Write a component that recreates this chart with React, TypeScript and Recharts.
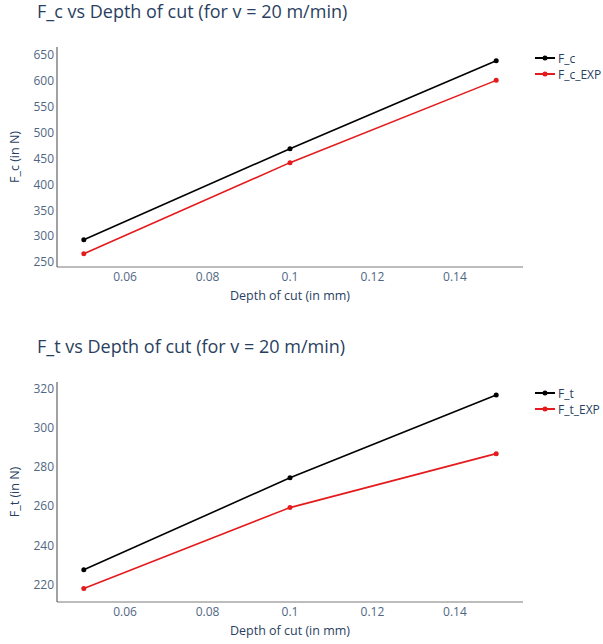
import React from "react";
import { LineChart, Line, XAxis, YAxis, Label } from "recharts";

const depths = [0.05, 0.1, 0.15];
const fcValues = [293, 469, 639];
const fcExpValues = [266, 442, 601];
const ftValues = [227.5, 274.4, 316.6];
const ftExpValues = [218, 259.2, 286.7];
const xTicks = [0.06, 0.08, 0.1, 0.12, 0.14];
const fcTicks = [250, 300, 350, 400, 450, 500, 550, 600, 650];
const ftTicks = [220, 240, 260, 280, 300, 320];

const FONT = '"Open Sans", Verdana, Arial, sans-serif';
const TITLE_COLOR = "#2a3f5f";
const TICK_COLOR = "#506784";
const RED = "#e41a1c";

function LegendBox(props: { names: string[] }) {
  return (
    <div
      style={{
        position: "absolute",
        left: 535,
        top: 50,
        fontFamily: FONT,
        fontSize: 12,
        color: TITLE_COLOR,
      }}
    >
      {props.names.map((n, i) => (
        <div key={n} style={{ display: "flex", alignItems: "center", height: 16 }}>
          <svg width={22} height={10} style={{ marginRight: 1 }}>
            <line x1={0} y1={5} x2={20} y2={5} stroke={i === 0 ? "#000" : RED} strokeWidth={2} />
            <circle cx={10} cy={5} r={2.5} fill={i === 0 ? "#000" : RED} />
          </svg>
          <span>{n}</span>
        </div>
      ))}
    </div>
  );
}

function Panel(props: {
  title: string;
  ylabel: string;
  a: number[];
  b: number[];
  names: string[];
  domain: [number, number];
  ticks: number[];
}) {
  const data = depths.map((d, i) => ({ d, a: props.a[i], b: props.b[i] }));
  return (
    <div style={{ position: "relative", width: 603, height: 310 }}>
      <div
        style={{
          position: "absolute",
          left: 37,
          top: 0,
          fontFamily: FONT,
          fontSize: 18,
          color: TITLE_COLOR,
          lineHeight: "22px",
          whiteSpace: "nowrap",
        }}
      >
        {props.title}
      </div>
      <LineChart
        width={603}
        height={310}
        data={data}
        margin={{ top: 47, right: 80, left: 0, bottom: 0 }}
        style={{ position: "absolute", left: 0, top: 0 }}
      >
        <XAxis
          dataKey="d"
          type="number"
          domain={[0.0435, 0.1565]}
          ticks={xTicks}
          allowDataOverflow
          height={43}
          tickSize={0}
          tickMargin={5}
          stroke="#7a7a7a"
          tick={{ fill: TICK_COLOR, fontSize: 12, fontFamily: FONT }}
        >
          <Label
            value="Depth of cut (in mm)"
            position="insideBottom"
            offset={10}
            style={{ fill: TITLE_COLOR, fontSize: 12.5, fontFamily: FONT }}
          />
        </XAxis>
        <YAxis
          type="number"
          domain={props.domain}
          ticks={props.ticks}
          allowDataOverflow
          width={57}
          tickSize={0}
          tickMargin={3}
          stroke="#444"
          tick={{ fill: TICK_COLOR, fontSize: 12, fontFamily: FONT }}
        >
          <Label
            value={props.ylabel}
            angle={-90}
            position="insideLeft"
            offset={15}
            style={{ fill: TITLE_COLOR, fontSize: 12.5, fontFamily: FONT, textAnchor: "middle" }}
          />
        </YAxis>
        <Line
          dataKey="a"
          name={props.names[0]}
          stroke="#000"
          strokeWidth={1.6}
          dot={{ r: 2.5, fill: "#000", stroke: "#000", strokeWidth: 0 }}
          isAnimationActive={false}
        />
        <Line
          dataKey="b"
          name={props.names[1]}
          stroke={RED}
          strokeWidth={1.6}
          dot={{ r: 2.5, fill: RED, stroke: RED, strokeWidth: 0 }}
          isAnimationActive={false}
        />
      </LineChart>
      <LegendBox names={props.names} />
    </div>
  );
}

export default function App() {
  return (
    <div style={{ position: "absolute", left: 0, top: 0, width: 603, height: 644, background: "#fff" }}>
      <div style={{ position: "absolute", left: 0, top: 0 }}>
        <Panel
          title="F_c vs Depth of cut (for v = 20 m/min)"
          ylabel="F_c (in N)"
          a={fcValues}
          b={fcExpValues}
          names={["F_c", "F_c_EXP"]}
          domain={[240.3, 665.5]}
          ticks={fcTicks}
        />
      </div>
      <div style={{ position: "absolute", left: 0, top: 335 }}>
        <Panel
          title="F_t vs Depth of cut (for v = 20 m/min)"
          ylabel="F_t (in N)"
          a={ftValues}
          b={ftExpValues}
          names={["F_t", "F_t_EXP"]}
          domain={[211.1, 323.2]}
          ticks={ftTicks}
        />
      </div>
    </div>
  );
}
